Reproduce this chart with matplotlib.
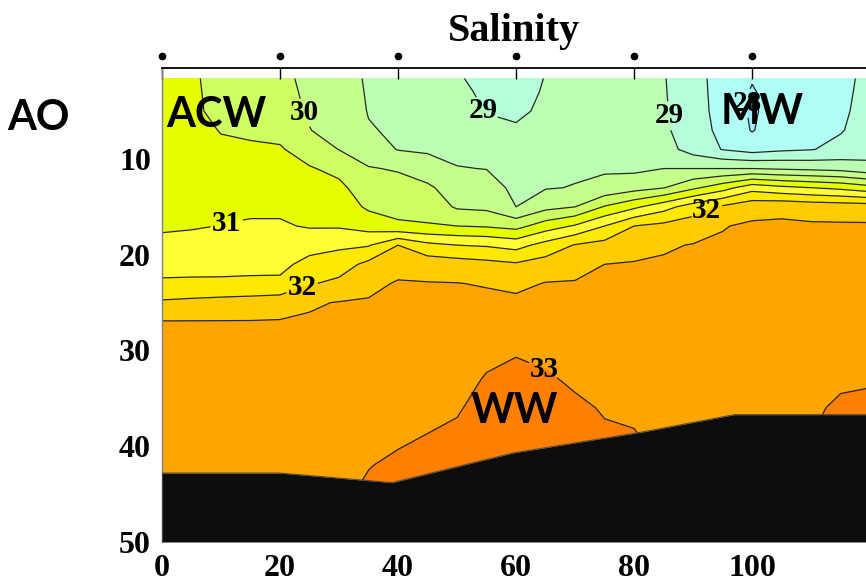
import numpy as np
import matplotlib
matplotlib.use("Agg")
import matplotlib.pyplot as plt
import matplotlib.transforms as mtransforms

plt.rcParams['font.family'] = ['Liberation Serif', 'DejaVu Serif']
plt.rcParams['font.weight'] = 'bold'

# ---------------- data ----------------
distance_km = [0, 5, 10, 15, 20, 25, 30, 35, 40, 45, 50, 55, 60, 65, 70, 75,
               80, 85, 90, 95, 100, 105, 110, 115, 120]
depth_m = [1.6, 3, 5, 7, 9, 11, 13, 15, 17, 19, 21, 23, 25, 27, 30, 33, 36, 39, 42, 45]

# one salinity profile (over depth_m) per distance
salinity_profiles = [
    [30.80, 30.81, 30.82, 30.84, 30.86, 30.88, 30.90, 30.91, 30.93, 31.13, 31.33, 31.57, 32.07, 32.52, 32.58, 32.64, 32.71, 32.77, 32.84, 32.90],
    [30.56, 30.57, 30.58, 30.65, 30.72, 30.79, 30.85, 30.91, 30.96, 31.16, 31.34, 31.58, 32.12, 32.52, 32.58, 32.64, 32.71, 32.77, 32.84, 32.90],
    [30.36, 30.37, 30.39, 30.48, 30.58, 30.69, 30.79, 30.90, 31.01, 31.18, 31.35, 31.58, 32.17, 32.52, 32.58, 32.64, 32.71, 32.77, 32.84, 32.90],
    [30.22, 30.24, 30.28, 30.42, 30.57, 30.69, 30.80, 30.92, 31.05, 31.21, 31.37, 31.59, 32.21, 32.52, 32.58, 32.64, 32.71, 32.77, 32.84, 32.90],
    [30.08, 30.10, 30.15, 30.35, 30.55, 30.67, 30.80, 30.92, 31.05, 31.21, 31.37, 31.60, 32.27, 32.53, 32.58, 32.64, 32.71, 32.77, 32.84, 32.90],
    [29.92, 29.94, 29.96, 30.01, 30.26, 30.54, 30.68, 30.82, 30.96, 31.31, 31.66, 31.96, 32.45, 32.55, 32.60, 32.66, 32.72, 32.78, 32.84, 32.90],
    [29.68, 29.72, 29.78, 29.86, 29.99, 30.37, 30.61, 30.78, 30.95, 31.41, 31.77, 32.11, 32.52, 32.56, 32.62, 32.68, 32.74, 32.80, 32.88, 32.95],
    [29.45, 29.46, 29.48, 29.53, 29.75, 30.03, 30.23, 30.42, 30.80, 31.46, 32.13, 32.41, 32.53, 32.58, 32.65, 32.72, 32.80, 32.90, 32.99, 33.05],
    [29.33, 29.36, 29.40, 29.44, 29.48, 29.96, 30.17, 30.34, 30.58, 32.00, 32.37, 32.53, 32.55, 32.60, 32.68, 32.76, 32.86, 32.96, 33.05, 33.10],
    [29.20, 29.25, 29.30, 29.37, 29.44, 29.71, 30.09, 30.30, 30.54, 31.63, 32.29, 32.52, 32.55, 32.62, 32.72, 32.82, 32.92, 33.01, 33.08, 33.10],
    [29.05, 29.10, 29.18, 29.27, 29.38, 29.52, 29.73, 29.94, 30.50, 31.50, 32.23, 32.51, 32.56, 32.60, 32.70, 32.82, 32.96, 33.08, 33.12, 33.12],
    [28.85, 28.92, 28.98, 29.13, 29.31, 29.49, 29.70, 29.89, 30.45, 31.45, 32.15, 32.47, 32.60, 32.70, 32.87, 33.04, 33.15, 33.18, 33.18, 33.18],
    [28.75, 28.85, 28.94, 29.04, 29.16, 29.27, 29.39, 29.50, 30.33, 31.32, 32.06, 32.39, 32.60, 32.74, 32.96, 33.13, 33.22, 33.25, 33.25, 33.25],
    [29.02, 29.04, 29.06, 29.12, 29.20, 29.32, 29.47, 29.85, 30.75, 31.68, 32.21, 32.52, 32.60, 32.70, 32.90, 33.05, 33.15, 33.18, 33.18, 33.18],
    [29.20, 29.23, 29.27, 29.31, 29.36, 29.43, 29.52, 30.00, 31.05, 32.03, 32.34, 32.53, 32.60, 32.67, 32.80, 32.94, 33.07, 33.10, 33.10, 33.10],
    [29.20, 29.23, 29.27, 29.32, 29.38, 29.45, 29.62, 30.54, 31.50, 32.17, 32.50, 32.56, 32.62, 32.67, 32.75, 32.85, 32.97, 33.05, 33.05, 33.05],
    [29.10, 29.14, 29.18, 29.23, 29.30, 29.40, 29.81, 30.90, 32.00, 32.33, 32.53, 32.60, 32.65, 32.70, 32.77, 32.85, 32.95, 33.02, 33.02, 33.02],
    [29.03, 29.04, 29.06, 29.09, 29.20, 29.50, 29.98, 31.31, 32.13, 32.45, 32.55, 32.60, 32.65, 32.70, 32.76, 32.82, 32.88, 32.92, 32.92, 32.92],
    [28.68, 28.69, 28.70, 28.72, 28.80, 29.50, 30.40, 31.75, 32.25, 32.52, 32.58, 32.62, 32.66, 32.70, 32.75, 32.80, 32.86, 32.90, 32.90, 32.90],
    [28.30, 28.31, 28.33, 28.38, 28.48, 29.50, 30.79, 32.08, 32.48, 32.55, 32.60, 32.64, 32.68, 32.72, 32.76, 32.80, 32.85, 32.90, 32.90, 32.90],
    [28.03, 27.96, 27.93, 27.97, 28.30, 29.50, 31.30, 32.34, 32.56, 32.60, 32.63, 32.66, 32.69, 32.72, 32.76, 32.80, 32.85, 32.90, 32.90, 32.90],
    [28.20, 28.22, 28.25, 28.30, 28.42, 29.44, 31.12, 32.40, 32.56, 32.60, 32.63, 32.66, 32.69, 32.72, 32.76, 32.80, 32.85, 32.90, 32.90, 32.90],
    [28.30, 28.32, 28.35, 28.40, 28.48, 29.39, 31.00, 32.33, 32.55, 32.60, 32.63, 32.66, 32.69, 32.72, 32.78, 32.85, 32.95, 33.00, 33.00, 33.00],
    [28.40, 28.41, 28.43, 28.47, 28.62, 29.33, 30.88, 32.30, 32.55, 32.60, 32.63, 32.66, 32.70, 32.75, 32.85, 32.95, 33.05, 33.10, 33.10, 33.10],
    [28.60, 28.62, 28.65, 28.70, 28.80, 29.15, 30.67, 32.27, 32.55, 32.60, 32.63, 32.66, 32.70, 32.75, 32.85, 32.97, 33.07, 33.10, 33.10, 33.10],
]

fill_levels = [27.5, 28.0, 28.5, 29.0, 29.5, 30.0, 30.5, 31.0, 31.5, 32.0, 32.5, 33.0, 33.5]
band_colors = ['#9FEAFF', '#B0FFF5', '#B5FFDA', '#BBFFB5', '#C4FF8E', '#CDFF62',
               '#E6FF00', '#FFFF33', '#FFE900', '#FFCC00', '#FFA500', '#FF7F00']
half_levels = [28.5, 29.5, 30.5, 31.5, 32.5]
whole_levels = [28.0, 29.0, 30.0, 31.0, 32.0, 33.0]
label_positions = [(22.4, 5.5), (53.4, 5.2), (85.6, 5.5), (100.0, 4.2),
                   (11.2, 17.3), (23.9, 23.7), (92.4, 15.5), (64.6, 32.1)]

bottom_x = [0, 20, 39, 59.5, 81.5, 97, 120]
bottom_depth = [42.8, 42.8, 43.8, 40.7, 38.5, 36.7, 36.7]

station_x = [0, 20, 40, 60, 80, 100]
x_ticks = [0, 20, 40, 60, 80, 100]
y_ticks = [10, 20, 30, 40, 50]

# ---------------- figure ----------------
fig = plt.figure(figsize=(8.66, 5.84), dpi=100)
ax = fig.add_axes([162 / 866, 1 - 542 / 584, (866 - 162) / 866, (542 - 68) / 584])

X, Y = np.meshgrid(distance_km, depth_m)
Z = np.array(salinity_profiles).T

ax.contourf(X, Y, Z, levels=fill_levels, colors=band_colors, zorder=1)
ax.contour(X, Y, Z, levels=half_levels, colors='#262626', linewidths=0.9, zorder=2)
cs = ax.contour(X, Y, Z, levels=whole_levels, colors='#262626', linewidths=0.9, zorder=2)
labels = ax.clabel(cs, manual=label_positions, fmt='%d', fontsize=21,
                   inline=True, inline_spacing=2)
for t in labels:
    t.set_rotation(0)
    t.set_color('black')

ax.fill_between(bottom_x, bottom_depth, 50, color='#0d0d0d', zorder=3, lw=0)
ax.plot(bottom_x, bottom_depth, color='#505050', lw=0.8, zorder=3)

ax.set_xlim(0, 119.3)
ax.set_ylim(50, 0.5)
ax.set_xticks(x_ticks)
ax.set_yticks(y_ticks)
ax.tick_params(axis='x', top=True, bottom=False, direction='in', length=8,
               width=1.0, labelsize=23, pad=9)
ax.tick_params(axis='y', left=True, direction='in', length=0, labelsize=23, pad=8)

for s in ['right', 'bottom']:
    ax.spines[s].set_visible(False)
ax.spines['top'].set_linewidth(1.3)
ax.spines['top'].set_zorder(5)
ax.spines['left'].set_color('#808080')
ax.spines['left'].set_linewidth(1.0)

trans = mtransforms.blended_transform_factory(ax.transData, ax.transAxes)
ax.plot(station_x, [1.025] * len(station_x), 'o', color='black', ms=4.5,
        transform=trans, clip_on=False)

fig.text(514 / 866, 1 - 32 / 584, 'Salinity', ha='center', va='center', fontsize=29)

label_font = dict(family=['Lato', 'DejaVu Sans'], weight='bold', fontsize=30,
                  ha='center', va='center', zorder=6)
fig.text(38 / 866, 1 - 118 / 584, 'AO', **label_font)
ax.text(9.2, 5.4, 'ACW', **label_font)
ax.text(101.7, 5.1, 'MW', **label_font)
ax.text(59.7, 36.3, 'WW', **label_font)

fig.savefig('out.png', dpi=100)
